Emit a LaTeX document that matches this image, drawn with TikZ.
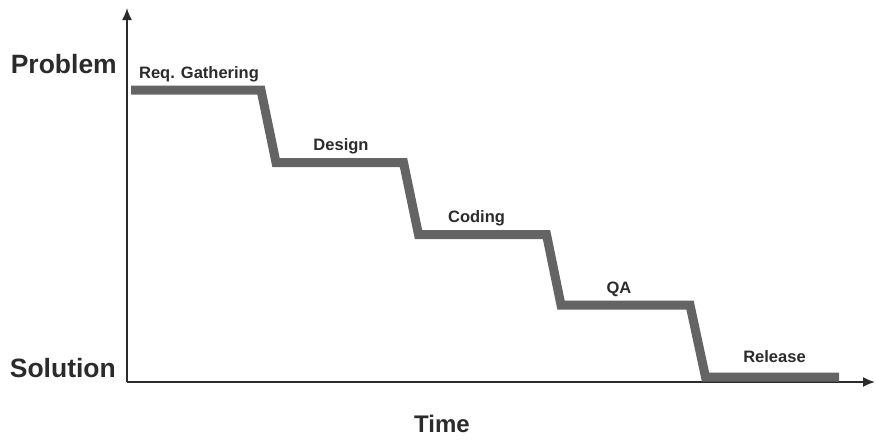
\documentclass[tikz,border=0pt]{standalone}
\usepackage{fontspec}
\setmainfont{Liberation Sans}
\usetikzlibrary{arrows.meta}

\definecolor{stepgray}{HTML}{646464}
\definecolor{inkgray}{HTML}{2B2B2B}

\begin{document}
\begin{tikzpicture}[x=1pt, y=-1pt,
            every node/.style = {inner sep=0pt, text=inkgray, font=\bfseries},
            phase/.style = {anchor=base, font=\bfseries\fontsize{16.5}{18}\selectfont},
            axislabel/.style = {anchor=base east, font=\bfseries\fontsize{26.5}{30}\selectfont},
            axis/.style = {draw=inkgray, line width=1.8pt, -{Latex[length=12pt,width=10pt]}},
            flow/.style = {draw=stepgray, line width=9pt, line join=miter}]
            \useasboundingbox (0,0) rectangle (876,440);
            % axes
            \coordinate (origin) at (127,382);
            \coordinate (top) at (127,8);
            \coordinate (right) at (875,382);
            \draw[axis] (origin) -- (top);
            \draw[axis] (origin) -- (right);
            \node[axislabel] (problem) at (117,73) {Problem};
            \node[axislabel] (solution) at (116,377) {Solution};
            \node[anchor=base, font=\bfseries\fontsize{24}{28}\selectfont] (time) at (442,432) {Time};
            % the steps going down
            \coordinate (req-a) at (131,90);
            \coordinate (req-b) at (261,90);
            \coordinate (des-a) at (276,162.5);
            \coordinate (des-b) at (403.5,162.5);
            \coordinate (cod-a) at (418.5,234.5);
            \coordinate (cod-b) at (546.5,234.5);
            \coordinate (qa-a) at (561,305);
            \coordinate (qa-b) at (690,305);
            \coordinate (rel-a) at (705.5,377);
            \coordinate (rel-b) at (839,377);
            \draw[flow] (req-a) -- (req-b) -- (des-a) -- (des-b) -- (cod-a)
                -- (cod-b) -- (qa-a) -- (qa-b) -- (rel-a) -- (rel-b);
            \node[phase] (req) at (199,78) {Req. Gathering};
            \node[phase] (design) at (341,150) {Design};
            \node[phase] (coding) at (476.5,222) {Coding};
            \node[phase] (qa) at (619,293) {QA};
            \node[phase] (release) at (774.5,362) {Release};
        \end{tikzpicture}
\end{document}
